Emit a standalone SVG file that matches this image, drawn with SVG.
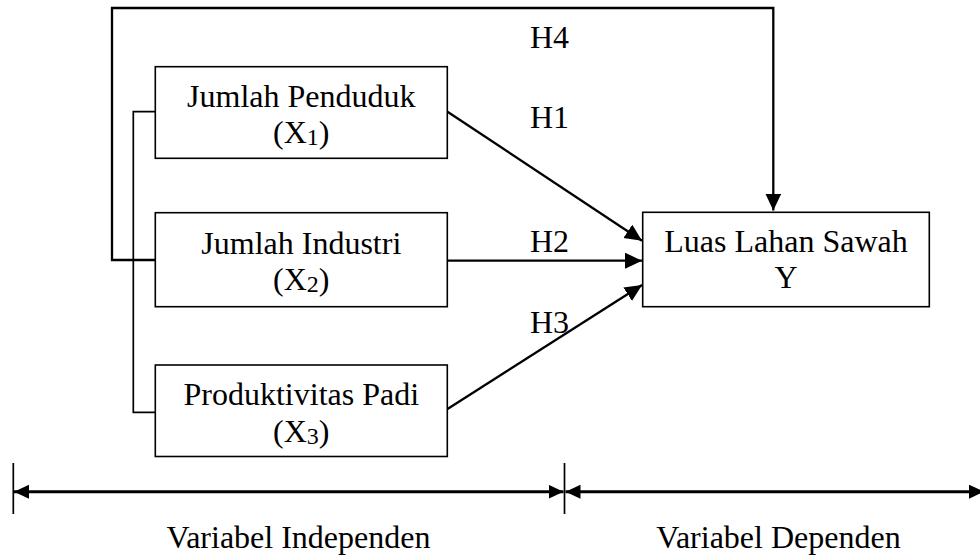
<svg xmlns="http://www.w3.org/2000/svg" width="980" height="555" viewBox="0 0 980 555">
<style>
.box{fill:#fff;stroke:#000;stroke-width:1.6}
.t{font-family:"Liberation Serif","Times New Roman",serif;font-size:32px;fill:#000}
.c{text-anchor:middle}
.sub{font-size:24px}
.ln{fill:none;stroke:#000;stroke-width:2.3}
.thin{fill:none;stroke:#000;stroke-width:1.7}
.dim{fill:none;stroke:#000;stroke-width:3}
</style>
<defs>
<marker id="ah" markerUnits="userSpaceOnUse" markerWidth="18" markerHeight="17" refX="17" refY="8" orient="auto">
<path d="M0,0 L17,8 L0,16 z" fill="#000"/>
</marker>
<marker id="dh" markerUnits="userSpaceOnUse" markerWidth="16" markerHeight="15" refX="15" refY="7" orient="auto-start-reverse">
<path d="M0,0 L15,7 L0,14 z" fill="#000"/>
</marker>
</defs>
<g id="connectors">
<path class="ln" d="M155,260 H112 V8 H773.3 V210.5" marker-end="url(#ah)"/>
<path class="thin" d="M155,111.7 H133.3 V412.3 H155"/>
<line class="ln" x1="447.5" y1="111.7" x2="642" y2="240.7" marker-end="url(#ah)"/>
<line class="ln" x1="447.5" y1="260.7" x2="642" y2="260.7" marker-end="url(#ah)"/>
<line class="ln" x1="447.5" y1="409" x2="642" y2="285" marker-end="url(#ah)"/>
<text class="t" x="530" y="48">H4</text>
<text class="t" x="530" y="128">H1</text>
<text class="t" x="530" y="251.5">H2</text>
<text class="t" x="530" y="333">H3</text>
</g>
<g id="x1">
<rect class="box" x="155.3" y="66.7" width="292" height="91.6"/>
<text class="t c" x="301.3" y="106.7">Jumlah Penduduk</text>
<text class="t c" x="301.3" y="143">(X<tspan class="sub" dy="2">1</tspan><tspan dy="-2">)</tspan></text>
</g>
<g id="x2">
<rect class="box" x="155.3" y="212.7" width="292" height="94"/>
<text class="t c" x="301.3" y="253.5">Jumlah Industri</text>
<text class="t c" x="301.3" y="290">(X<tspan class="sub" dy="2">2</tspan><tspan dy="-2">)</tspan></text>
</g>
<g id="x3">
<rect class="box" x="155.3" y="365" width="292" height="91.5"/>
<text class="t c" x="301.3" y="404.5">Produktivitas Padi</text>
<text class="t c" x="301.3" y="442">(X<tspan class="sub" dy="2">3</tspan><tspan dy="-2">)</tspan></text>
</g>
<g id="y">
<rect class="box" x="642.7" y="212.3" width="286.6" height="94.4"/>
<text class="t c" x="786" y="251.7">Luas Lahan Sawah</text>
<text class="t c" x="786" y="288">Y</text>
</g>
<g id="scale">
<line class="thin" x1="13.3" y1="463" x2="13.3" y2="514"/>
<line class="thin" x1="564.5" y1="463" x2="564.5" y2="514"/>
<line class="dim" x1="14" y1="491.7" x2="563.5" y2="491.7" marker-start="url(#dh)" marker-end="url(#dh)"/>
<line class="dim" x1="565.5" y1="491.7" x2="984" y2="491.7" marker-start="url(#dh)" marker-end="url(#dh)"/>
<text class="t c" x="298.5" y="548">Variabel Independen</text>
<text class="t c" x="778.5" y="548">Variabel Dependen</text>
</g>
</svg>
